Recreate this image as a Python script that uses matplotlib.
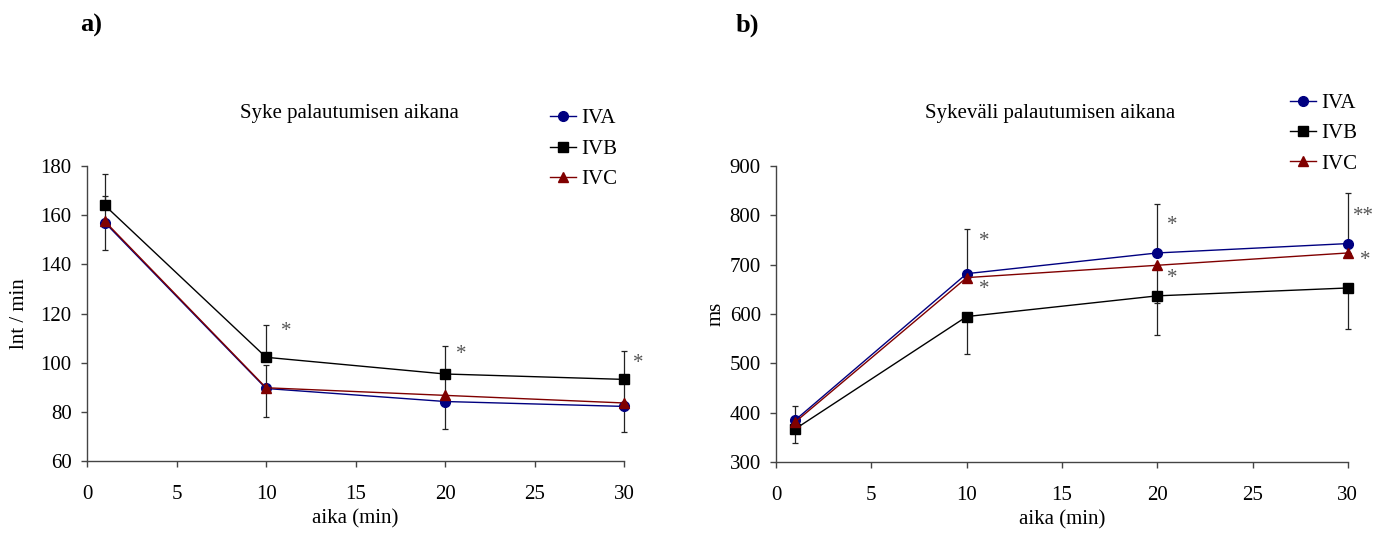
"""Syke ja sykeväli palautumisen aikana, ryhmät IVA / IVB / IVC."""
import matplotlib

matplotlib.use("Agg")

import matplotlib.pyplot as plt

plt.rcParams["font.family"] = ["Liberation Serif", "DejaVu Serif"]

aika = [1, 10, 20, 30]
ryhmat = ["IVA", "IVB", "IVC"]
varit = {"IVA": "#000080", "IVB": "#000000", "IVC": "#800000"}
merkit = {"IVA": "o", "IVB": "s", "IVC": "^"}

# a) syke (lnt / min)
syke = {
    "IVA": [157, 89.5, 84.2, 82.2],
    "IVB": [164, 102.2, 95.4, 93.2],
    "IVC": [157.5, 89.8, 86.7, 83.6],
}
# virhepalkit: (alas, ylös)
syke_err = {
    "IVA": ([11, 11.7, 11, 10.6], [0, 0, 0, 0]),
    "IVB": ([0, 0, 0, 0], [13, 13, 11.4, 11.7]),
    "IVC": ([0, 0, 0, 0], [10.5, 9.1, 9, 10]),
}
syke_tahdet = [(11.1, 112.5, "*"), (20.9, 103.5, "*"), (30.8, 99.5, "*")]

# b) sykeväli (ms)
sykevali = {
    "IVA": [385, 682, 724, 743],
    "IVB": [367, 595, 637, 653],
    "IVC": [381, 674, 699, 724],
}
sykevali_err = {
    "IVA": ([0, 0, 0, 0], [29, 90, 100, 102]),
    "IVB": ([28, 76, 80, 83], [0, 0, 0, 0]),
    "IVC": ([0, 0, 77, 0], [0, 0, 0, 0]),
}
sykevali_tahdet = [
    (10.9, 748, "*"), (10.9, 649, "*"),
    (20.8, 780, "*"), (20.8, 672, "*"),
    (30.8, 797, "**"), (30.9, 709, "*"),
]


def piirra(ax, arvot, virheet, tahdet, otsikko, otsikko_x, ylabel, ylabel_pad, ylim, yticks):
    for ryhma in ryhmat:
        ax.errorbar(aika, arvot[ryhma], yerr=virheet[ryhma], fmt="none",
                    ecolor="#222222", elinewidth=0.9, capsize=2.5, capthick=0.9,
                    zorder=2, clip_on=False)
    for ryhma in ryhmat:
        ax.plot(aika, arvot[ryhma], color=varit[ryhma], marker=merkit[ryhma],
                markersize=7, linewidth=1.0, label=ryhma, zorder=3, clip_on=False)
    for x, y, s in tahdet:
        ax.text(x, y, s, fontsize=15, ha="center", va="center", color="#555555")

    ax.set_xlim(0, 30)
    ax.set_ylim(*ylim)
    ax.set_xticks(range(0, 31, 5))
    ax.set_yticks(yticks)
    ax.spines[["top", "right"]].set_visible(False)
    for side in ("left", "bottom"):
        ax.spines[side].set_color("#444444")
        ax.spines[side].set_linewidth(1.0)
    ax.tick_params(direction="out", length=4.5, width=1.0, color="#444444", labelsize=15)
    ax.tick_params(axis="x", pad=12.5)
    ax.tick_params(axis="y", pad=6.5)
    ax.set_xlabel("aika (min)", fontsize=15, labelpad=4)
    ax.set_ylabel(ylabel, fontsize=15, labelpad=ylabel_pad)
    ax.set_title(otsikko, fontsize=15, pad=35, x=otsikko_x)


fig = plt.figure(figsize=(13.81, 5.36), dpi=100)
ax_a = fig.add_axes([0.063, 0.140, 0.389, 0.550])
ax_b = fig.add_axes([0.562, 0.138, 0.414, 0.552])

piirra(ax_a, syke, syke_err, syke_tahdet, "Syke palautumisen aikana", 0.488,
       "lnt / min", 8, (60, 180), range(60, 181, 20))
piirra(ax_b, sykevali, sykevali_err, sykevali_tahdet, "Sykeväli palautumisen aikana", 0.479,
       "ms", 3, (300, 900), range(300, 901, 100))

legend_opts = dict(loc="upper left", bbox_transform=fig.transFigure, frameon=False,
                   fontsize=15, handlelength=1.25, handletextpad=0.25,
                   labelspacing=0.52, borderaxespad=0, borderpad=0)
ax_a.legend(bbox_to_anchor=(0.398, 0.797), **legend_opts)
ax_b.legend(bbox_to_anchor=(0.934, 0.826), **legend_opts)

fig.text(0.058, 0.953, "a)", fontsize=19, fontweight="bold", va="center")
fig.text(0.533, 0.953, "b)", fontsize=19, fontweight="bold", va="center")

fig.savefig("out.png", dpi=100)
